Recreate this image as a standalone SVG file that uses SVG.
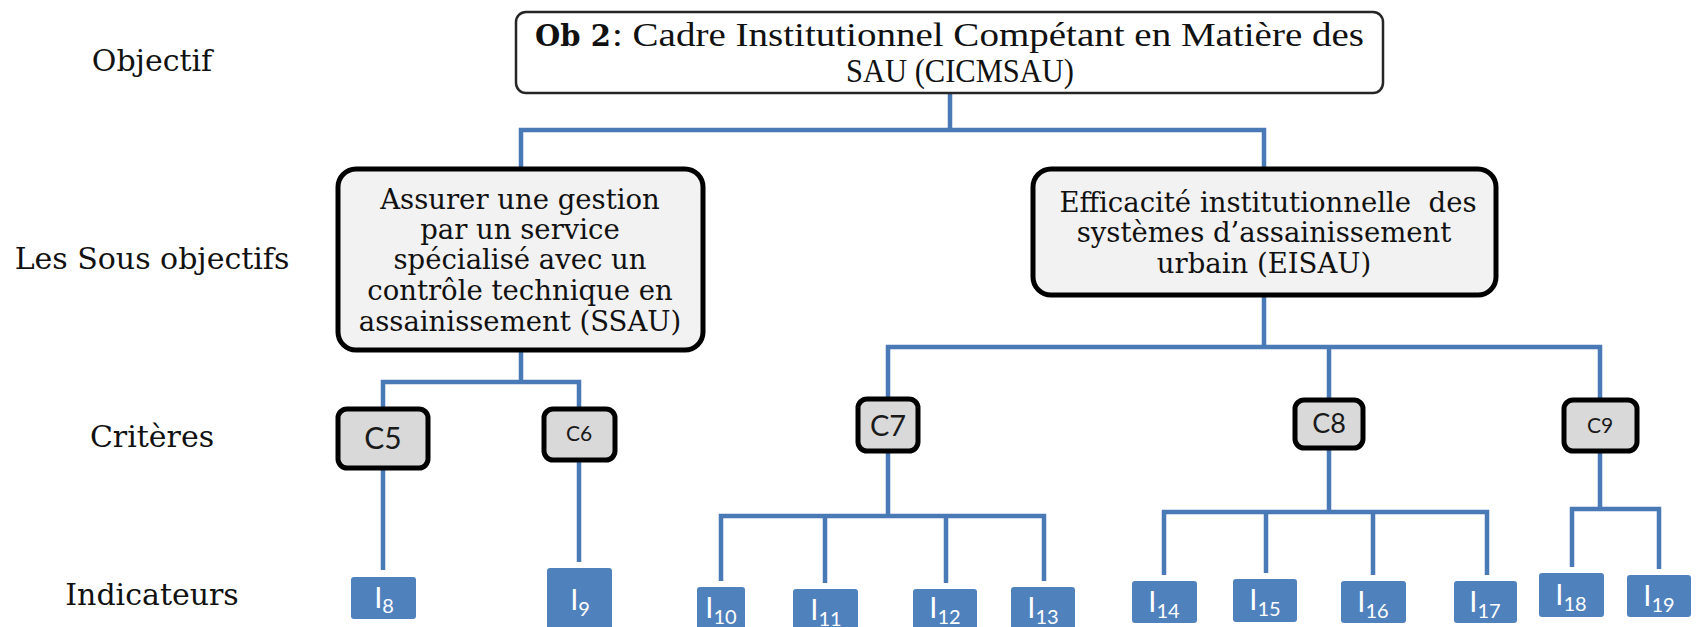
<svg xmlns="http://www.w3.org/2000/svg" width="1701" height="627" viewBox="0 0 1701 627">
  <style>
    .lvl { font-family: "DejaVu Serif", "Liberation Serif", serif; font-size: 30px; fill: #111; text-anchor: middle; }
    .top { font-family: "Liberation Serif", serif; font-size: 34px; fill: #111; }
    .topb { font-family: "DejaVu Serif", serif; font-weight: bold; font-size: 29px; fill: #111; }
    .sub { font-family: "DejaVu Serif", "Liberation Serif", serif; font-size: 27.5px; fill: #111; text-anchor: middle; }
    .objbox { fill: #ffffff; stroke: #262626; stroke-width: 2.5; }
    .subbox { fill: #f2f2f2; stroke: #000; stroke-width: 5; }
    .critbox { fill: #d9d9d9; stroke: #000; stroke-width: 5; }
    .crit { font-family: "Lato", "Liberation Sans", sans-serif; fill: #1a1a1a; text-anchor: middle; }
    .indbox { fill: #4f81bd; }
    .ind { font-family: "Lato", "Liberation Sans", sans-serif; font-size: 29px; fill: #fff; text-anchor: middle; }
    .ind tspan { font-size: 20px; }
    .conn { fill: none; stroke: #4a7ab5; stroke-width: 4.5; }
  </style>

  <!-- level labels -->
  <g id="levels">
    <text class="lvl" x="152" y="71">Objectif</text>
    <text class="lvl" x="152" y="269">Les Sous objectifs</text>
    <text class="lvl" x="152" y="447">Critères</text>
    <text class="lvl" x="152" y="605">Indicateurs</text>
  </g>

  <!-- connectors -->
  <g id="connectors" class="conn">
    <path d="M950,93 V130 M521,168 V130 H1264 V168"/>
    <path d="M521,350 V382 M383,409 V382 H579 V409"/>
    <path d="M1264,295 V347 M888,399 V347 H1600 V400 M1329,347 V400"/>
    <path d="M383,468 V570"/>
    <path d="M579,460 V562"/>
    <path d="M888,451 V516 M721,581 V516 H1044 V581 M825,516 V583 M946,516 V583"/>
    <path d="M1329,448 V512 M1164,575 V512 H1487 V575 M1266,512 V573 M1373,512 V575"/>
    <path d="M1600,451 V509 M1572,567 V509 H1659 V569"/>
  </g>

  <!-- objective -->
  <g id="ob2">
    <rect class="objbox" x="516" y="12" width="867" height="81" rx="10"/>
    <text class="topb" x="535" y="46">Ob 2</text>
    <text class="top" x="612" y="46" textLength="752" lengthAdjust="spacingAndGlyphs">: Cadre Institutionnel Compétant en Matière des</text>
    <text class="top" x="960" y="82" text-anchor="middle" textLength="228" lengthAdjust="spacingAndGlyphs">SAU (CICMSAU)</text>
  </g>

  <!-- sub-objectives -->
  <g id="ssau">
    <rect class="subbox" x="338" y="169" width="365" height="181" rx="18"/>
    <text class="sub" x="520" y="209">Assurer une gestion</text>
    <text class="sub" x="520" y="239">par un service</text>
    <text class="sub" x="520" y="269">spécialisé avec un</text>
    <text class="sub" x="520" y="300">contrôle technique en</text>
    <text class="sub" x="520" y="331">assainissement (SSAU)</text>
  </g>
  <g id="eisau">
    <rect class="subbox" x="1033" y="169" width="463" height="126" rx="18"/>
    <text class="sub" x="1268" y="212" xml:space="preserve">Efficacité institutionnelle  des</text>
    <text class="sub" x="1264" y="242">systèmes d’assainissement</text>
    <text class="sub" x="1264" y="273">urbain (EISAU)</text>
  </g>

  <!-- criteria -->
  <g id="c5">
    <rect class="critbox" x="338" y="409" width="90" height="59" rx="9"/>
    <text class="crit" x="383" y="449" font-size="30">C5</text>
  </g>
  <g id="c6">
    <rect class="critbox" x="544" y="409" width="71" height="51" rx="9"/>
    <text class="crit" x="579" y="441" font-size="21">C6</text>
  </g>
  <g id="c7">
    <rect class="critbox" x="858" y="399" width="60" height="52" rx="9"/>
    <text class="crit" x="888" y="436" font-size="29">C7</text>
  </g>
  <g id="c8">
    <rect class="critbox" x="1295" y="400" width="68" height="48" rx="9"/>
    <text class="crit" x="1329" y="433" font-size="27">C8</text>
  </g>
  <g id="c9">
    <rect class="critbox" x="1564" y="400" width="73" height="51" rx="9"/>
    <text class="crit" x="1600" y="433" font-size="21">C9</text>
  </g>

  <!-- indicators -->
  <g id="i8"><rect class="indbox" x="351" y="577" width="65" height="42" rx="3"/><text class="ind" x="384" y="608">I<tspan dy="5">8</tspan></text></g>
  <g id="i9"><rect class="indbox" x="547" y="568" width="65" height="64" rx="3"/><text class="ind" x="580" y="610">I<tspan dy="6">9</tspan></text></g>
  <g id="i10"><rect class="indbox" x="697" y="587" width="48" height="50" rx="3"/><text class="ind" x="721" y="618">I<tspan dy="6">10</tspan></text></g>
  <g id="i11"><rect class="indbox" x="793" y="589" width="65" height="50" rx="3"/><text class="ind" x="826" y="620">I<tspan dy="6">11</tspan></text></g>
  <g id="i12"><rect class="indbox" x="913" y="589" width="64" height="50" rx="3"/><text class="ind" x="945" y="618">I<tspan dy="6">12</tspan></text></g>
  <g id="i13"><rect class="indbox" x="1011" y="587" width="64" height="50" rx="3"/><text class="ind" x="1043" y="618">I<tspan dy="6">13</tspan></text></g>
  <g id="i14"><rect class="indbox" x="1132" y="581" width="65" height="42" rx="3"/><text class="ind" x="1164" y="612">I<tspan dy="6">14</tspan></text></g>
  <g id="i15"><rect class="indbox" x="1233" y="579" width="64" height="43" rx="3"/><text class="ind" x="1265" y="610">I<tspan dy="6">15</tspan></text></g>
  <g id="i16"><rect class="indbox" x="1341" y="581" width="65" height="42" rx="3"/><text class="ind" x="1373" y="612">I<tspan dy="6">16</tspan></text></g>
  <g id="i17"><rect class="indbox" x="1454" y="581" width="63" height="42" rx="3"/><text class="ind" x="1485" y="612">I<tspan dy="6">17</tspan></text></g>
  <g id="i18"><rect class="indbox" x="1539" y="573" width="65" height="44" rx="3"/><text class="ind" x="1571" y="605">I<tspan dy="6">18</tspan></text></g>
  <g id="i19"><rect class="indbox" x="1627" y="575" width="64" height="42" rx="3"/><text class="ind" x="1659" y="606">I<tspan dy="6">19</tspan></text></g>
</svg>
